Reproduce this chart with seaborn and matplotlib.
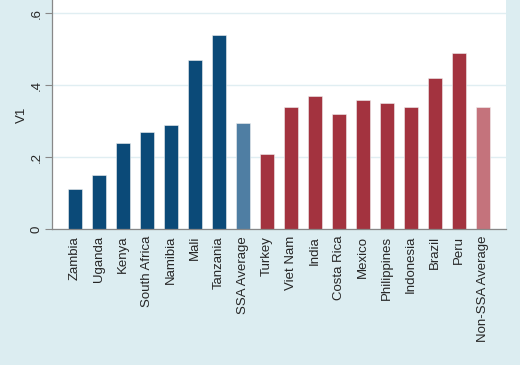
import matplotlib
matplotlib.use("Agg")
import matplotlib.pyplot as plt
import seaborn as sns
import pandas as pd

countries = ["Zambia", "Uganda", "Kenya", "South Africa", "Namibia", "Mali", "Tanzania",
             "SSA Average", "Turkey", "Viet Nam", "India", "Costa Rica", "Mexico",
             "Philippines", "Indonesia", "Brazil", "Peru", "Non-SSA Average"]
values = [0.11, 0.15, 0.24, 0.27, 0.29, 0.47, 0.54, 0.294, 0.21, 0.34, 0.37, 0.32,
          0.36, 0.35, 0.34, 0.42, 0.49, 0.34]
groups = ["SSA"] * 7 + ["SSA avg"] + ["Non-SSA"] * 9 + ["Non-SSA avg"]
palette = {"SSA": "#0b4a78", "SSA avg": "#4f7ea3", "Non-SSA": "#a3333f", "Non-SSA avg": "#c4737c"}
yticks = [0, 0.2, 0.4, 0.6]
ytick_labels = ["0", ".2", ".4", ".6"]

df = pd.DataFrame({"country": countries, "V1": values, "group": groups})

sns.set_style("white")
plt.rcParams["font.family"] = ["Liberation Sans", "DejaVu Sans"]

bg = "#dcedf1"
fig = plt.figure(figsize=(5.2, 3.65), dpi=100, facecolor=bg)
ax = fig.add_axes([0.1, 0.3726, 0.873, 0.6274])
ax.set_facecolor("white")

sns.barplot(data=df, x="country", y="V1", hue="group", palette=palette,
            dodge=False, width=0.6, legend=False, ax=ax, saturation=1,
            edgecolor="#f0f0f0", linewidth=0.4)

ax.set_ylim(0, 0.637)
ax.set_xlim(-0.95, 17.95)
ax.set_yticks(yticks)
ax.set_yticklabels(ytick_labels, rotation=90, va="center", fontsize=9.5)
ax.yaxis.grid(True, color="#e0eef2", linewidth=1.0)
ax.set_axisbelow(True)
ax.tick_params(axis="x", labelrotation=90, labelsize=9.5, length=0, pad=5)
ax.tick_params(axis="y", length=5, color="#888888", left=True, pad=2)
ax.set_xlabel("")
ax.set_ylabel("V1", fontsize=9.5)
ax.yaxis.set_label_coords(-0.054, 0.5)
for s in ["top", "right"]:
    ax.spines[s].set_visible(False)
for s in ["left", "bottom"]:
    ax.spines[s].set_color("#888888")
    ax.spines[s].set_linewidth(0.9)

fig.savefig("out.png", dpi=100, facecolor=bg)
